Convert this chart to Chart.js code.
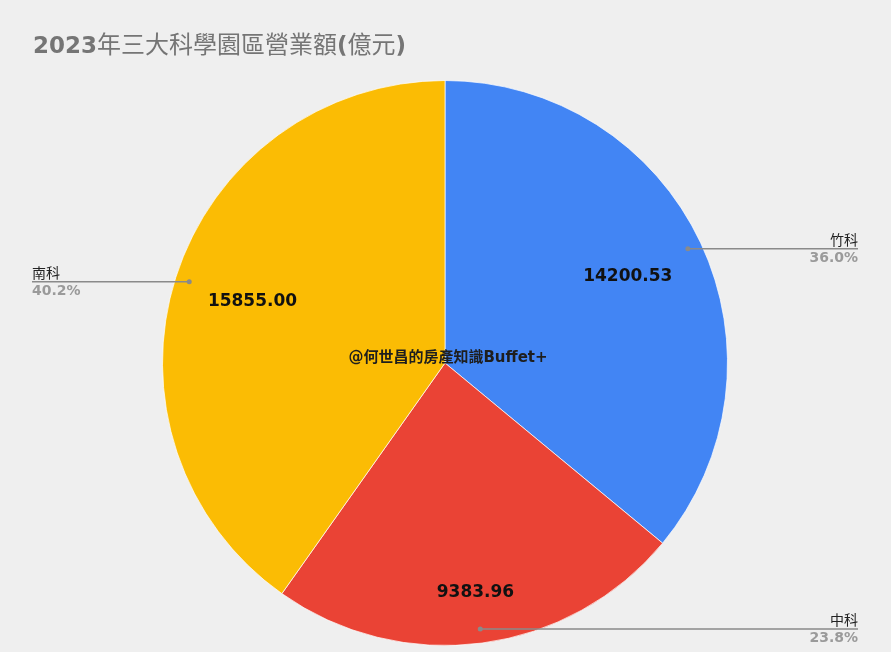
<!DOCTYPE html>
<html>
<head>
  <meta charset="utf-8">
  <title>2023年三大科學園區營業額</title>
  <script src="https://cdn.jsdelivr.net/npm/chart.js"></script>
  <style>
    html, body { margin: 0; padding: 0; background: #efefef; }
    #wrap { width: 891px; height: 652px; }
  </style>
</head>
<body>
  <div id="wrap"><canvas id="pie" width="891" height="652"></canvas></div>

  <script>
    // data
    const parks = ['竹科', '中科', '南科'];
    const revenue = [14200.53, 9383.96, 15855.00];
    const sliceColors = ['#4285F4', '#EA4335', '#FBBC04'];

    // title pieces: latin bits are bold, CJK falls back to regular
    const titleParts = [
      ['2023', true], ['年三大科學園區營業額', false], ['(', true], ['億元', false], [')', true]
    ];
    const watermark = '@何世昌的房產知識Buffet+';

    const total = revenue.reduce((a, b) => a + b, 0);

    const labelsPlugin = {
      id: 'sheetLabels',
      beforeDraw(chart) {
        const ctx = chart.ctx;
        ctx.save();
        ctx.fillStyle = '#efefef';
        ctx.fillRect(0, 0, chart.width, chart.height);
        ctx.restore();
      },
      afterDraw(chart, args, opts) {
        const ctx = chart.ctx;
        const meta = chart.getDatasetMeta(0);
        ctx.save();

        // title
        let x = 33;
        ctx.textBaseline = 'alphabetic';
        ctx.textAlign = 'left';
        ctx.fillStyle = '#757575';
        titleParts.forEach(([txt, bold]) => {
          ctx.font = bold ? 'bold 23px "DejaVu Sans", "Noto Sans CJK TC"' : '24px "Noto Sans CJK TC"';
          ctx.fillText(txt, x, 53);
          x += ctx.measureText(txt).width;
        });

        meta.data.forEach((arc, i) => {
          const p = arc.getProps(['x', 'y', 'startAngle', 'endAngle', 'outerRadius'], true);
          const mid = (p.startAngle + p.endAngle) / 2;
          const cos = Math.cos(mid), sin = Math.sin(mid);

          // value inside slice
          const f = opts.valuePos[i];
          ctx.font = 'bold 17px "DejaVu Sans"';
          ctx.fillStyle = '#111';
          ctx.textAlign = 'center';
          ctx.textBaseline = 'middle';
          ctx.fillText(revenue[i].toFixed(2), p.x + cos * p.outerRadius * f, p.y + sin * p.outerRadius * f);

          // leader line
          const dx = p.x + cos * p.outerRadius * 0.95;
          const dy = p.y + sin * p.outerRadius * 0.95;
          const right = cos >= 0;
          const endX = right ? 858 : 32;
          ctx.strokeStyle = '#8a8a8a';
          ctx.lineWidth = 1.5;
          ctx.beginPath();
          ctx.moveTo(dx, dy);
          ctx.lineTo(endX, dy);
          ctx.stroke();
          ctx.fillStyle = '#8a8a8a';
          ctx.beginPath();
          ctx.arc(dx, dy, 2.5, 0, Math.PI * 2);
          ctx.fill();

          ctx.textAlign = right ? 'right' : 'left';
          ctx.textBaseline = 'alphabetic';
          ctx.font = '14px "Noto Sans CJK TC"';
          ctx.fillStyle = '#222';
          ctx.fillText(parks[i], endX, dy - 4);
          ctx.font = 'bold 14px "DejaVu Sans"';
          ctx.fillStyle = '#9a9a9a';
          ctx.fillText((revenue[i] / total * 100).toFixed(1) + '%', endX, dy + 13);
        });

        // watermark
        ctx.font = 'bold 15px "DejaVu Sans", "Noto Sans CJK TC"';
        ctx.fillStyle = '#1e1e1e';
        ctx.textAlign = 'center';
        ctx.textBaseline = 'middle';
        ctx.fillText(watermark, 448, 358);

        ctx.restore();
      }
    };

    new Chart(document.getElementById('pie'), {
      type: 'pie',
      data: {
        labels: parks,
        datasets: [{
          data: revenue,
          backgroundColor: sliceColors,
          borderColor: 'rgba(255,255,255,0.7)',
          borderWidth: 1
        }]
      },
      options: {
        responsive: false,
        animation: false,
        devicePixelRatio: 1,
        layout: { padding: { top: 80, bottom: 6, left: 162, right: 163 } },
        plugins: {
          legend: { display: false },
          tooltip: { enabled: false },
          title: { display: false },
          sheetLabels: { valuePos: [0.715, 0.82, 0.715] }
        }
      },
      plugins: [labelsPlugin]
    });
  </script>
</body>
</html>
